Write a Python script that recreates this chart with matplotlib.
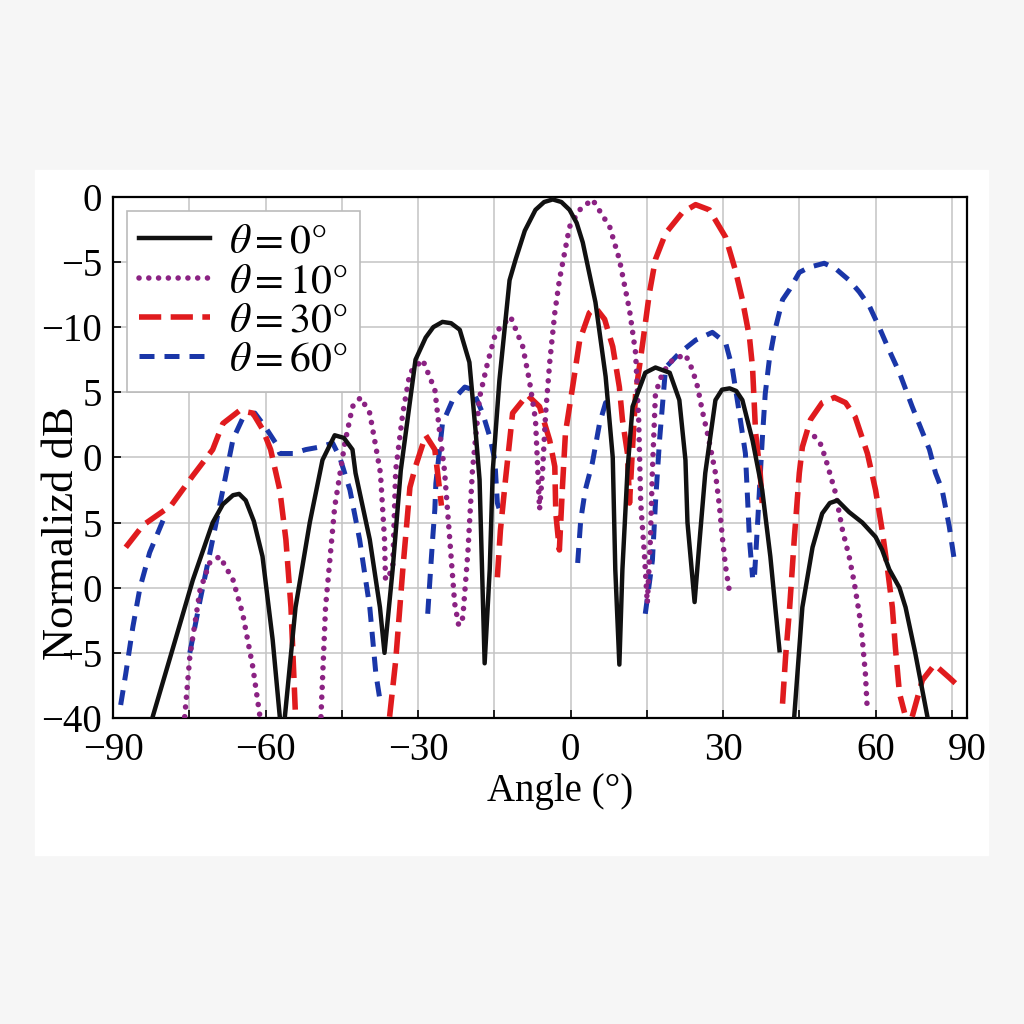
import numpy as np
import matplotlib
matplotlib.use("Agg")
import matplotlib.pyplot as plt
from matplotlib.patches import Rectangle

plt.rcParams['font.family'] = ['Liberation Serif', 'DejaVu Serif']
plt.rcParams['mathtext.fontset'] = 'stix'

nan = np.nan

# theta = 0 deg (solid black)
ang_0 = [-82.2, -78.2, -74.3, -70.4, -68.4, -66.4, -65.2, -63.9, -62.3, -60.6, -58.6, -57.2, nan,
         -56.2, -54.1, -51.3, -48.8, -46.4, -44.6, -42.9, -42.3, -39.5, -37.5, -36.6,
         -35.0, -33.4, -30.5, -28.5, -27.0, -25.2, -23.5, -21.8, -19.9, -18.7, -17.9, -16.9,
         -15.9, -15.3, -14.0, -12.0, -10.8, -9.0, -6.9, -5.2, -3.5, -1.8, -0.2, 1.2, 2.4, 4.9, 6.9, 8.3, 8.8, 9.6,
         10.2, 11.2, 12.2, 14.7, 16.7, 19.5, 21.4, 22.6, 23.0, 24.4,
         25.4, 26.5, 28.5, 29.8, 31.3, 32.6, 33.8, 35.8, 37.7, 39.3, 41.1, nan,
         44.0, 45.6, 47.6, 49.5, 51.0, 52.5, 54.8, 57.4, 60.0, 61.3, 62.7, 64.7, 65.9, 67.8, 70.2]
db_0 = [-39.9, -34.6, -29.4, -25.0, -23.6, -22.9, -22.8, -23.3, -24.9, -27.6, -34.0, -39.9, nan,
        -39.9, -31.5, -25.0, -20.2, -18.3, -18.5, -19.4, -21.2, -26.3, -31.5, -35.0,
        -28.6, -21.0, -12.5, -10.8, -10.0, -9.6, -9.7, -10.2, -12.7, -17.9, -21.7, -35.8,
        -28.6, -21.0, -14.1, -6.4, -4.8, -2.6, -1.0, -0.4, -0.2, -0.4, -1.0, -2.0, -3.5, -8.1, -13.8, -20.0, -28.6, -35.9,
        -28.6, -21.0, -16.1, -13.5, -13.1, -13.5, -15.6, -20.2, -25.0, -31.1,
        -26.3, -21.2, -15.6, -14.8, -14.7, -14.9, -15.6, -18.7, -22.5, -27.6, -34.8, nan,
        -39.9, -31.5, -26.9, -24.3, -23.5, -23.3, -24.2, -25.0, -26.1, -27.1, -28.6, -30.0, -31.5, -35.0, -39.9]

# theta = 10 deg (dotted purple)
ang_10 = [-75.9, -74.9, -72.9, -71.0, -69.0, -66.4, -64.5, -62.5, -61.1, nan,
          -49.1, -48.2, -46.4, -44.4, -42.9, -41.3, -39.5, -38.3, -37.4, -36.6, -36.4,
          -35.0, -34.4, -33.0, -31.6, -29.1, -26.7, -25.8, -24.8, -23.8, -22.8, -22.0,
          -21.2, -20.2, -19.3, -17.9, -16.3, -14.7, -11.8, -9.4, -8.1, -6.9, -6.1,
          -5.5, -4.9, -4.1, -3.1, -2.2, -0.2, 1.8, 4.3, 7.7, 9.6, 11.6, 12.8, 13.4, 13.8, 14.5, 15.1,
          15.7, 16.1, 16.7, 18.1, 20.1, 22.6, 24.0, 25.0, 25.9, 26.9, 27.9, 28.5, 29.3, 29.9, 30.5, 31.3, nan,
          48.0, 49.1, 50.1, 52.1, 53.5, 54.8, 55.8, 56.8, 57.4, 58.0, 58.4]
db_10 = [-39.9, -35.3, -30.2, -28.1, -27.6, -29.4, -32.0, -36.1, -39.9, nan,
         -39.9, -31.5, -23.8, -18.9, -16.1, -15.4, -16.6, -19.2, -21.2, -26.3, -29.4,
         -28.6, -21.0, -16.6, -13.5, -12.5, -14.8, -17.9, -21.0, -26.1, -31.2, -32.9,
         -32.3, -27.3, -21.0, -15.4, -12.7, -10.4, -9.2, -11.5, -14.1, -17.1, -24.0,
         -21.0, -16.6, -12.7, -8.9, -6.4, -2.3, -1.0, -0.2, -2.3, -4.8, -8.7, -12.0, -17.1, -23.5, -27.3, -31.2,
         -26.3, -21.0, -15.1, -13.5, -12.5, -12.1, -13.3, -14.6, -16.4, -18.1, -20.0, -21.2, -23.8, -26.3, -28.4, -30.4, nan,
         -18.4, -18.9, -20.0, -22.7, -25.6, -27.6, -29.6, -32.0, -34.0, -36.6, -39.6]

# theta = 30 deg (dashed red)
ang_30 = [-87.5, -84.1, -78.6, -74.3, -70.4, -68.4, -65.1, -62.5, -60.5, -59.0, -57.2, -56.0, -55.0, -54.1, nan,
          -35.6, -34.4, -33.0, -31.6, -30.5, -28.5, -26.7, -25.6, -25.4, nan,
          -14.4, -13.8, -12.8, -11.4, -8.5, -6.1, -4.1, -3.1, -2.9, -2.2,
          -1.6, -1.0, 0.4, 1.8, 3.7, 4.9, 6.7, 8.3, 9.6, 10.2, 11.2, 11.6,
          12.2, 12.8, 14.2, 15.5, 16.7, 18.7, 22.0, 24.6, 27.3, 30.5, 32.4, 33.8, 35.2, 35.8, 36.4, 37.3, 37.7, nan,
          41.7, 42.3, 43.1, 44.0, 45.0, 45.6, 47.2, 49.5, 51.9, 54.1, 56.0, 58.4, 60.0, 61.3, 62.3, 63.3, 63.9, 64.7, 65.7, nan,
          67.2, 69.2, 71.6, 74.5, 76.7]
db_30 = [-26.9, -25.2, -23.7, -21.4, -19.4, -17.4, -16.4, -16.6, -17.9, -19.4, -22.5, -26.3, -31.5, -39.9, nan,
         -39.9, -35.6, -28.6, -22.3, -20.7, -18.3, -19.4, -23.0, -23.7, nan,
         -29.2, -25.6, -21.7, -16.6, -15.2, -16.1, -18.7, -20.7, -24.3, -27.1,
         -22.3, -18.1, -14.6, -11.0, -8.9, -8.5, -9.4, -11.5, -14.6, -17.1, -19.7, -23.5,
         -19.2, -15.1, -11.2, -7.4, -4.8, -2.8, -1.2, -0.6, -1.0, -3.1, -5.6, -7.9, -10.8, -13.1, -18.1, -21.2, -23.5, nan,
         -38.9, -35.3, -31.5, -26.3, -21.2, -19.2, -17.1, -15.8, -15.4, -15.8, -16.9, -19.7, -22.5, -25.6, -28.4, -31.5, -34.6, -38.1, -39.6, nan,
         -39.9, -37.1, -35.9, -36.9, -37.7]

# theta = 60 deg (dashed blue)
ang_60 = [-88.5, -87.5, -86.1, -84.7, -82.8, -79.6, nan,
          -74.9, -72.9, -70.4, -68.4, -66.4, -64.5, -62.1, -60.0, -58.0, -57.2, -54.6, -52.1, -49.3, -46.8,
          -45.4, -43.4, -41.5, -39.5, -38.3, -37.5, nan,
          -28.1, -27.5, -27.1, -26.7, -26.5, -25.2, -23.2, -20.8, -19.3, -17.3, -15.9, -14.9, -14.4, -14.0, nan,
          1.4, 2.0, 2.9, 4.3, 5.7, 6.9, 8.6, nan,
          14.7, 16.1, 16.7, 17.5, 18.7, 21.4, 24.6, 27.9, 30.5, 31.8, 33.2, 34.4, 35.2, 35.8, nan,
          36.2, 36.8, 37.7, 38.3, 39.1, 40.1, 41.7, 43.1, 45.0, 47.0, 49.9, 52.1, 54.8, 56.8, 58.8,
          60.7, 62.7, 64.7, 67.2, 70.6, 71.8, 73.1, 74.5, 75.5]
db_60 = [-39.0, -36.6, -33.0, -30.0, -27.3, -24.3, nan,
         -35.0, -31.0, -26.3, -22.5, -18.6, -17.0, -16.6, -17.7, -18.9, -19.7, -19.7, -19.4, -19.2, -18.9,
         -20.0, -22.5, -26.3, -31.5, -36.6, -38.6, nan,
         -32.0, -28.4, -26.1, -24.0, -22.0, -17.4, -15.6, -14.6, -14.8, -16.6, -18.4, -20.2, -23.5, -24.0, nan,
         -28.1, -24.8, -22.5, -20.4, -17.4, -15.8, -15.8, nan,
         -32.0, -27.9, -23.5, -18.7, -13.1, -12.0, -11.0, -10.4, -11.2, -13.1, -16.6, -19.7, -26.3, -29.2, nan,
         -29.0, -25.0, -18.7, -15.1, -12.5, -10.4, -7.9, -7.1, -5.8, -5.4, -5.1, -5.5, -6.4, -7.3, -8.4,
         -10.0, -11.8, -13.5, -16.1, -19.4, -21.2, -22.5, -25.3, -27.9]

labels = [r'$\theta = 0°$', r'$\theta = 10°$', r'$\theta = 30°$', r'$\theta = 60°$']
x_ticks = [-90, -75, -60, -45, -30, -15, 0, 15, 30, 45, 60, 75, 78]
x_labels = ['−90', '', '−60', '', '−30', '', '0', '', '30', '', '60', '', '90']
y_ticks = [0, -5, -10, -15, -20, -25, -30, -35, -40]
y_labels = ['0', '−5', '−10', '5', '0', '5', '0', '−5', '−40']

fig = plt.figure(figsize=(10.24, 10.24), dpi=100, facecolor='#f6f6f6')
panel = Rectangle((35/1024, 1-855/1024), 953/1024, 685/1024,
                  transform=fig.transFigure, color='white', zorder=-10)
fig.patches.append(panel)
ax = fig.add_axes([0.1104, 0.2988, 0.834, 0.509])

ax.plot(ang_0, db_0, color='#111111', lw=3.2, solid_joinstyle='round',
        label=labels[0], zorder=5)
ax.plot(ang_10, db_10, color='#8b2283', lw=4.0, dashes=(0.01, 1.75),
        dash_capstyle='round', label=labels[1], zorder=4)
ax.plot(ang_30, db_30, color='#e01b1e', lw=4.0, dashes=(4.0, 1.7),
        dash_joinstyle='round', label=labels[2], zorder=3)
ax.plot(ang_60, db_60, color='#1a36a8', lw=3.6, dashes=(3.0, 2.0),
        dash_joinstyle='round', label=labels[3], zorder=2)

ax.set_xlim(-90, 78)
ax.set_ylim(-40, 0)
ax.set_xticks(x_ticks)
ax.set_xticklabels(x_labels)
ax.set_yticks(y_ticks)
ax.set_yticklabels(y_labels)
ax.tick_params(direction='in', length=6, width=1.2, labelsize=28, pad=8)
ax.tick_params(axis='x', pad=10)
ax.grid(True, color='#c4c4c4', lw=1.1)
for s in ax.spines.values():
    s.set_linewidth(1.6)

ax.set_xlabel('Angle (°)', fontsize=28)
ax.xaxis.set_label_coords(0.523, -0.105)
ax.set_ylabel('Normalizd dB', fontsize=32)
ax.yaxis.set_label_coords(-0.036, 0.355)

leg = ax.legend(loc='upper left', bbox_to_anchor=(0.016, 0.973), borderaxespad=0,
                fontsize=30, handlelength=1.7, handletextpad=0.45, labelspacing=0.02,
                borderpad=0.3, fancybox=False, framealpha=1, edgecolor='#bbbbbb')
leg.get_frame().set_linewidth(1.2)

fig.savefig('out.png', dpi=100, facecolor=fig.get_facecolor())
